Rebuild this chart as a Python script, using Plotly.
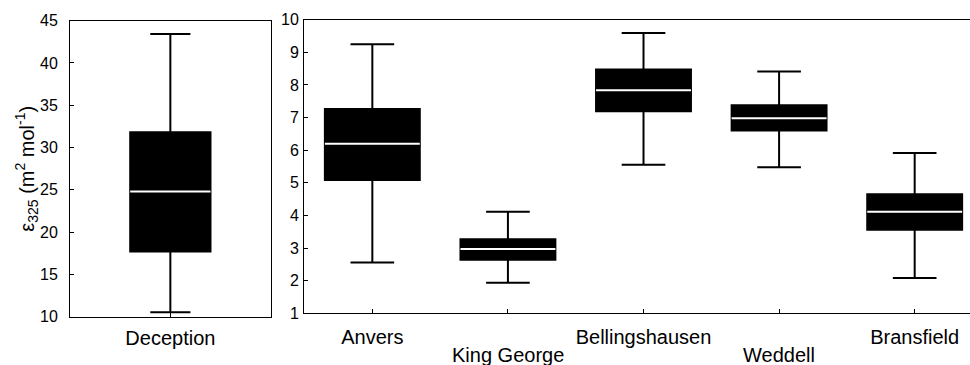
import plotly.graph_objects as go

# Deception Island (own panel, different scale)
dec_label = ["Deception"]
dec_low = [10.52]
dec_q1 = [17.7]
dec_med = [24.8]
dec_q3 = [31.8]
dec_high = [43.43]

# Other Antarctic regions
regions = ["Anvers", "King George", "Bellingshausen", "Weddell", "Bransfield"]
reg_low = [2.56, 1.94, 5.55, 5.48, 2.08]
reg_q1 = [5.09, 2.64, 7.19, 6.60, 3.56]
reg_med = [6.20, 2.97, 7.84, 6.98, 4.11]
reg_q3 = [7.26, 3.27, 8.47, 7.38, 4.65]
reg_high = [9.25, 4.11, 9.59, 8.41, 5.91]

FONT = "Liberation Sans, Arial, sans-serif"
W = 970.0
H = 365.0

fig = go.Figure()


def add_panel(xs, low, q1, med, q3, high, width, wwidth, xa, ya):
    fig.add_trace(go.Box(
        x=xs, lowerfence=low, q1=q1, median=med, q3=q3, upperfence=high,
        width=width, whiskerwidth=wwidth, boxpoints=False,
        fillcolor="black", line=dict(color="black", width=2),
        xaxis=xa, yaxis=ya, showlegend=False, hoverinfo="skip",
    ))
    # white median bars across each box
    mx, my = [], []
    for x, m in zip(xs, med):
        mx += [x - width / 2, x + width / 2, None]
        my += [m, m, None]
    fig.add_trace(go.Scatter(
        x=mx, y=my, mode="lines", line=dict(color="white", width=2),
        xaxis=xa, yaxis=ya, showlegend=False, hoverinfo="skip",
    ))


dec_x = list(range(1, len(dec_label) + 1))
reg_x = list(range(1, len(regions) + 1))

add_panel(dec_x, dec_low, dec_q1, dec_med, dec_q3, dec_high, 0.40, 0.5, "x", "y")
add_panel(reg_x, reg_low, reg_q1, reg_med, reg_q3, reg_high, 0.70, 0.46, "x2", "y2")

# staggered category labels: odd positions as tick labels, even ones on a second row
row1_x = [x for i, x in enumerate(reg_x) if i % 2 == 0]
row1_text = [r for i, r in enumerate(regions) if i % 2 == 0]
row2_x = [x for i, x in enumerate(reg_x) if i % 2 == 1]
row2_text = [r for i, r in enumerate(regions) if i % 2 == 1]
second_row = [
    dict(text=r, x=x, y=1 - 355 / H, xref="x2", yref="paper",
         showarrow=False, xanchor="center", yanchor="middle",
         font=dict(family=FONT, size=20, color="black"))
    for r, x in zip(row2_text, row2_x)
]

axis_common = dict(
    showline=True, linecolor="black", linewidth=1, showgrid=False, zeroline=False,
    ticks="inside", ticklen=4, tickcolor="black", automargin=False,
)
yfont = dict(family=FONT, size=16, color="black")
xfont = dict(family=FONT, size=20, color="black")

fig.update_layout(
    width=970, height=365,
    margin=dict(l=0, r=0, t=0, b=0),
    paper_bgcolor="white", plot_bgcolor="white",
    xaxis=dict(
        domain=[70 / W, 270.7 / W], range=[0.5, 1.5],
        tickvals=dec_x, ticktext=dec_label, mirror=True, anchor="y",
        tickfont=xfont, ticklabelstandoff=3,
        **axis_common,
    ),
    yaxis=dict(
        domain=[1 - 316.7 / H, 1 - 20.7 / H], range=[10, 45], dtick=5,
        mirror=True, anchor="x", ticklabelstandoff=8, tickfont=yfont,
        **axis_common,
    ),
    xaxis2=dict(
        domain=[304 / W, 1.0], range=[0.496, 5.408],
        tickvals=row1_x, ticktext=row1_text, mirror=True, anchor="y2",
        tickfont=xfont, ticklabelstandoff=6,
        minor=dict(tickvals=row2_x, ticks="inside", ticklen=4,
                   tickcolor="black", showgrid=False),
        **axis_common,
    ),
    yaxis2=dict(
        domain=[1 - 313.3 / H, 1 - 19.7 / H], range=[1, 10], dtick=1,
        anchor="x2", ticklabelstandoff=1, tickfont=yfont,
        **axis_common,
    ),
    annotations=[dict(
        text="ε<sub>325</sub> (m<sup>2</sup> mol<sup>-1</sup>)",
        x=27 / W, y=1 - 168.7 / H, xref="paper", yref="paper",
        textangle=-90, showarrow=False, xanchor="center", yanchor="middle",
        font=dict(family=FONT, size=20, color="black"),
    )] + second_row,
)

fig.write_html("out.html")
